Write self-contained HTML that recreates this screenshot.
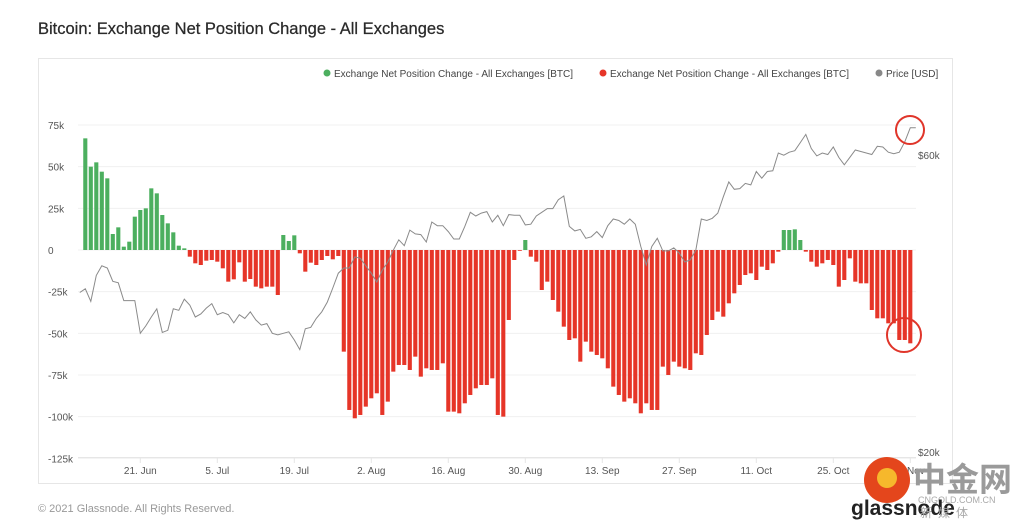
<!DOCTYPE html>
<html><head><meta charset="utf-8"><style>
html,body{margin:0;padding:0;background:#fff;width:1024px;height:530px;overflow:hidden;font-family:"Liberation Sans","Noto Sans CJK SC",sans-serif;}
svg{position:absolute;left:0;top:0}
</style></head><body>
<svg id="chart" width="1024" height="530" viewBox="0 0 1024 530">
<text x="38" y="34" font-size="16.5" fill="#2a2a2a" stroke="#2a2a2a" stroke-width="0.25">Bitcoin: Exchange Net Position Change - All Exchanges</text>
<rect x="38.5" y="58.5" width="914" height="425" fill="none" stroke="#e6e6e6"/>
<g id="legend" font-size="10" fill="#444">
<g><circle cx="327" cy="73" r="3.5" fill="#4caf5f"/><text x="334" y="77">Exchange Net Position Change - All Exchanges [BTC]</text></g>
<g><circle cx="603" cy="73" r="3.5" fill="#e63528"/><text x="610" y="77">Exchange Net Position Change - All Exchanges [BTC]</text></g>
<g><circle cx="879" cy="73" r="3.5" fill="#888"/><text x="886" y="77">Price [USD]</text></g>
</g>
<g id="grid"></g><g id="bars"></g><g id="price"></g><g id="axes"></g>
<circle cx="910" cy="130" r="14" fill="none" stroke="#e0352a" stroke-width="2"/>
<circle cx="904" cy="335" r="17" fill="none" stroke="#e0352a" stroke-width="2"/>
<text x="38" y="512" font-size="11" fill="#999">© 2021 Glassnode. All Rights Reserved.</text>
<g>
<circle cx="887" cy="480" r="23" fill="#e4461c"/>
<circle cx="887" cy="478" r="10" fill="#f6b82c"/>
<text x="913" y="491" font-size="33" font-weight="bold" fill="#9a9a9a" font-family="'Noto Sans CJK SC',sans-serif">中金网</text>
<text x="918" y="503" font-size="9" fill="#aaa">CNGOLD.COM.CN</text>
<text x="851" y="515" font-size="21" fill="#222" font-weight="bold">glassnode</text>
<text x="920" y="517" font-size="12" fill="#aaa" font-family="'Noto Sans CJK SC',sans-serif" letter-spacing="6">新媒体</text>
</g>
</svg>
<script>
const flows = [67,50,52.6,47,43,9.6,13.6,2,5,20,24,25,37,34,21,16,10.6,2.6,1,-4,-8,-9,-6.4,-6,-7,-11,-19,-17.6,-7.4,-19,-17.4,-22,-23,-22,-22,-27,9,5.4,8.8,-2,-13,-7.6,-9,-6,-3.6,-5.6,-3.6,-61,-96,-101,-99,-94,-89,-86,-99,-91,-73,-69,-69,-72,-64,-76,-71,-72,-72,-68,-97,-97,-98,-92,-87,-83,-81,-81,-77,-99,-100,-42,-6,-0.4,6,-4,-7,-24,-19,-30,-37,-46,-54,-53,-67,-55,-61,-63,-65,-71,-82,-87,-91,-89,-92,-98,-92,-96,-96,-70,-75,-67,-70,-71,-72,-62,-63,-51,-42,-37,-40,-32,-26,-21,-15,-14,-18,-10,-12,-8,-1,12,12,12.4,6,-1,-7,-10,-8,-6,-9,-22,-18,-5,-19,-20,-20,-36,-41,-41,-44,-44,-54,-54,-56];
const prices = [41.5,42.0,40.3,43.8,45.1,44.8,43.0,42.8,40.4,40.4,40.4,36.0,37.0,38.2,39.3,36.1,36.4,39.3,39.1,40.6,39.8,38.2,38.6,39.4,40.0,38.5,38.8,38.5,37.4,38.5,38.0,38.9,37.8,37.1,37.3,36.0,35.8,36.0,36.2,35.1,33.8,36.6,36.8,38.0,38.9,40.2,42.1,44.1,44.8,44.8,46.3,46.1,45.1,44.1,42.9,44.5,45.6,47.2,48.6,47.8,49.9,49.4,49.3,48.3,51.0,50.5,50.5,49.7,48.7,48.7,50.4,52.3,51.8,52.2,52.4,51.0,51.9,50.5,52.0,51.9,51.9,50.6,50.7,51.8,52.3,52.8,52.8,54.0,54.5,50.4,49.8,50.0,48.8,49.0,49.7,48.9,50.5,51.4,51.2,50.7,51.4,50.7,47.7,45.2,47.7,48.8,47.1,47.1,47.5,46.8,45.6,45.9,47.2,51.4,51.2,51.5,52.2,54.4,56.4,55.4,55.5,56.2,56.0,57.8,56.9,57.8,57.9,60.3,60.0,60.4,60.6,61.7,62.8,60.9,59.9,60.3,60.1,61.1,59.7,58.7,59.7,60.7,60.5,60.3,60.1,61.2,61.1,60.4,60.2,60.4,61.8,63.7,63.7];
const yTicks = [75,50,25,0,-25,-50,-75,-100,-125];
const yTickLabels = ["75k","50k","25k","0","-25k","-50k","-75k","-100k","-125k"];
const xTickIdx = [10,24,38,52,66,80,94,108,122,136,150];
const xTickLabels = ["21. Jun","5. Jul","19. Jul","2. Aug","16. Aug","30. Aug","13. Sep","27. Sep","11. Oct","25. Oct","8. Nov"];
const priceTicks = [60,20];
const priceTickLabels = ["$60k","$20k"];

const NS="http://www.w3.org/2000/svg";
const yS = v => 250 - v*(208.3/125);
const xS = i => 85.3 + i*5.5;
const pS = p => 452 - (p-20)*7.42;
function mk(tag, attrs, parent){const e=document.createElementNS(NS,tag);for(const k in attrs)e.setAttribute(k,attrs[k]);parent.appendChild(e);return e;}
const grid=document.getElementById('grid'), bars=document.getElementById('bars'), axes=document.getElementById('axes'), pr=document.getElementById('price');
yTicks.forEach((t,i)=>{
  const l=mk('line',{x1:78,x2:916,y1:yS(t),y2:yS(t),stroke:'#f0f0f0','stroke-width':1},grid);
  
  
  const tx=mk('text',{x:48,y:yS(t)+4,'font-size':10,fill:'#555'},axes);
  tx.textContent=yTickLabels[i];
  
  
});
const xl=mk('line',{x1:78,x2:916,y1:457.5,y2:457.5,stroke:'#e6e6e6'},axes);


xTickIdx.forEach((idx,i)=>{
  const x=xS(idx);
  const tk=mk('line',{x1:x,x2:x,y1:458,y2:463,stroke:'#e6e6e6'},axes);
  
  
  const tx=mk('text',{x:x,y:474,'font-size':10,fill:'#555','text-anchor':'middle'},axes);
  tx.textContent=xTickLabels[i];
  
  
});
priceTicks.forEach((p,i)=>{
  const tx=mk('text',{x:918,y:pS(p)+4,'font-size':10,fill:'#555'},axes);
  tx.textContent=priceTickLabels[i];
  
  
});
flows.forEach((v,i)=>{
  const y0=yS(0), y1=yS(v);
  const r=mk('rect',{x:xS(i)-2.05,y:Math.min(y0,y1),width:4.1,height:Math.max(0.8,Math.abs(y1-y0)),fill:v>=0?'#4caf5f':'#e63528'},bars);
  
  
});
const pts=prices.map((p,i)=>xS(i-1).toFixed(1)+','+pS(p).toFixed(1)).join(' ');
const pl=mk('polyline',{points:pts,fill:'none',stroke:'#8a8a8a','stroke-width':1},pr);


</script>
</body></html>
